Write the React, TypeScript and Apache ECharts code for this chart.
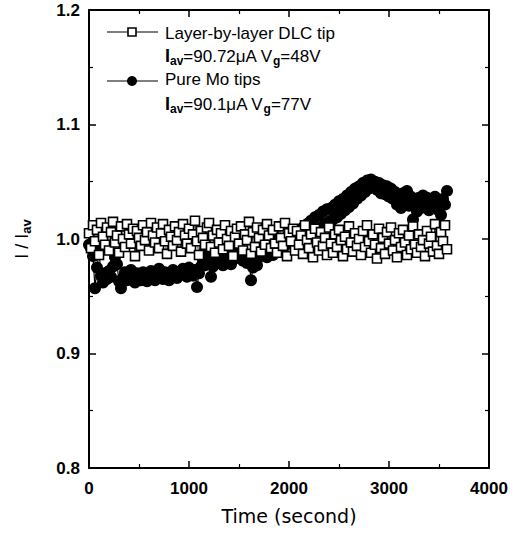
import React, { useEffect, useRef } from "react";
import * as echarts from "echarts";

// Time (s) of each sample
const timeSec = [
  0, 20, 40, 60, 80, 100, 120, 140, 160, 180, 200, 220, 240, 260, 280, 300, 320, 340, 360, 380,
  400, 420, 440, 460, 480, 500, 520, 540, 560, 580, 600, 620, 640, 660, 680, 700, 720, 740, 760, 780,
  800, 820, 840, 860, 880, 900, 920, 940, 960, 980, 1000, 1020, 1040, 1060, 1080, 1100, 1120, 1140, 1160, 1180,
  1200, 1220, 1240, 1260, 1280, 1300, 1320, 1340, 1360, 1380, 1400, 1420, 1440, 1460, 1480, 1500, 1520, 1540, 1560, 1580,
  1600, 1620, 1640, 1660, 1680, 1700, 1720, 1740, 1760, 1780, 1800, 1820, 1840, 1860, 1880, 1900, 1920, 1940, 1960, 1980,
  2000, 2020, 2040, 2060, 2080, 2100, 2120, 2140, 2160, 2180, 2200, 2220, 2240, 2260, 2280, 2300, 2320, 2340, 2360, 2380,
  2400, 2420, 2440, 2460, 2480, 2500, 2520, 2540, 2560, 2580, 2600, 2620, 2640, 2660, 2680, 2700, 2720, 2740, 2760, 2780,
  2800, 2820, 2840, 2860, 2880, 2900, 2920, 2940, 2960, 2980, 3000, 3020, 3040, 3060, 3080, 3100, 3120, 3140, 3160, 3180,
  3200, 3220, 3240, 3260, 3280, 3300, 3320, 3340, 3360, 3380, 3400, 3420, 3440, 3460, 3480, 3500, 3520, 3540, 3560, 3580,
];

// Layer-by-layer DLC tip, I / Iav (open squares)
const dlcTip = [
  1.005, 0.992, 1.012, 0.998, 1.008, 0.986, 1.014, 1.002, 0.995, 1.010, 0.990, 1.006, 1.015, 0.997, 1.003,
  0.988, 1.011, 1.000, 0.993, 1.013, 1.004, 0.996, 1.009, 0.985, 1.007, 1.001, 0.994, 1.012, 0.999, 1.006,
  0.990, 1.014, 1.003, 0.997, 1.010, 0.992, 1.005, 1.013, 0.998, 0.987, 1.008, 1.002, 0.994, 1.011, 0.999,
  1.006, 0.989, 1.013, 1.003, 0.996, 1.009, 0.992, 1.004, 1.016, 0.998, 0.986, 1.007, 1.001, 0.995, 1.010,
  1.014, 0.993, 1.003, 0.988, 1.008, 0.997, 1.005, 0.991, 1.012, 1.000, 0.994, 1.007, 0.985, 1.002, 1.009,
  0.996, 1.011, 0.990, 1.004, 0.999, 1.015, 0.987, 1.006, 0.993, 1.010, 1.001, 0.989, 1.008, 0.995, 1.013,
  1.003, 0.992, 1.008, 0.996, 0.988, 1.011, 1.001, 0.994, 1.014, 0.985, 1.005, 0.998, 1.009, 0.990, 1.007,
  0.995, 1.003, 0.987, 1.012, 0.999, 0.992, 1.004, 0.984, 1.009, 0.997, 0.990, 1.006, 0.994, 1.001, 0.986,
  1.010, 0.996, 0.988, 1.004, 0.993, 1.008, 0.999, 0.985, 1.002, 0.991, 1.011, 0.997, 0.989, 1.005, 0.994,
  1.000, 0.986, 1.007, 0.993, 1.012, 0.998, 0.988, 1.004, 0.995, 0.983, 1.009, 0.992, 1.001, 0.987, 1.006,
  0.996, 1.010, 0.990, 0.999, 0.984, 1.005, 0.993, 1.008, 0.997, 0.986, 1.003, 0.991, 1.011, 0.995, 0.988,
  1.004, 0.993, 0.999, 0.985, 1.007, 0.996, 1.002, 0.989, 1.013, 0.994, 0.987, 1.006, 0.998, 1.012, 0.991,
];

// Pure Mo tips, I / Iav (filled circles)
const pureMo = [
  0.995, 0.992, 0.985, 0.957, 0.975, 0.990,
  0.968, 0.962, 0.970, 0.965, 0.972, 0.967, 0.976, 0.984, 0.978, 0.963,
  0.957, 0.966, 0.971, 0.964, 0.969, 0.973, 0.966, 0.962, 0.970, 0.968, 0.964, 0.971, 0.967, 0.963, 0.969,
  0.972, 0.966, 0.964, 0.970, 0.974, 0.968, 0.965, 0.971, 0.967, 0.964, 0.969, 0.973, 0.968, 0.966, 0.971,
  0.969, 0.974, 0.970, 0.967, 0.975, 0.971, 0.968, 0.973, 0.958, 0.970, 0.976, 0.981, 0.977, 0.986, 0.980,
  0.967, 0.976, 0.983, 0.979, 0.986, 0.981, 0.977, 0.985, 0.989, 0.982, 0.978, 0.987, 0.983, 0.990, 0.984,
  0.988, 0.981, 0.986, 0.979, 0.983, 0.964, 0.975, 0.987, 0.977, 0.992, 0.985, 0.994, 0.989, 0.984, 0.996,
  0.991, 0.986, 0.997, 0.993, 1.000, 0.995, 0.999, 0.994, 1.002, 0.998, 1.004, 0.997, 1.003, 1.000, 1.006,
  1.000, 1.010, 1.003, 1.013, 1.002, 1.016, 1.006, 1.019, 1.008, 1.021, 1.010, 1.024, 1.013, 1.026, 1.015,
  1.027, 1.017, 1.030, 1.019, 1.033, 1.022, 1.035, 1.025, 1.038, 1.028, 1.041, 1.031, 1.044, 1.035, 1.046,
  1.038, 1.049, 1.041, 1.051, 1.044, 1.052, 1.046, 1.050, 1.043, 1.049, 1.040, 1.047, 1.039, 1.046, 1.037,
  1.044, 1.035, 1.041, 1.030, 1.037, 1.027, 1.040, 1.032, 1.042, 1.029, 1.037, 1.017, 1.030, 1.024, 1.036,
  1.027, 1.038, 1.029, 1.036, 1.025, 1.034, 1.028, 1.037, 1.026, 1.033, 1.021, 1.035, 1.030, 1.042,
];

const xRange = [0, 4000];
const yRange = [0.8, 1.2];
const xStep = 1000;
const yStep = 0.1;

const legendTitles = ["Layer-by-layer DLC tip", "Pure Mo tips"];
const legendNotes = [
  "{b|I}{s|av}{n|=90.72\u03bcA V}{s|g}{n|=48V}",
  "{b|I}{s|av}{n|=90.1\u03bcA V}{s|g}{n|=77V}",
];

const FONT = "'Liberation Sans', Arial, sans-serif";

const richSub = {
  n: { fontSize: 17, lineHeight: 21, fontFamily: FONT, color: "#000" },
  b: { fontSize: 18, lineHeight: 21, fontFamily: FONT, fontWeight: "bold", color: "#000" },
  s: { fontSize: 12, lineHeight: 8, verticalAlign: "bottom", fontFamily: FONT, fontWeight: "bold", color: "#000" },
};

const richAxis = {
  n: { fontSize: 18, lineHeight: 22, fontFamily: FONT, color: "#000" },
  s: { fontSize: 13, lineHeight: 8, verticalAlign: "bottom", fontFamily: FONT, fontWeight: "bold", color: "#000" },
};

export default function App() {
  const ref = useRef<HTMLDivElement>(null);

  useEffect(() => {
    if (!ref.current) return;
    const chart = echarts.init(ref.current, undefined, { renderer: "svg" });

    const axisCommon = {
      type: "value" as const,
      axisLine: { show: true, onZero: false, lineStyle: { color: "#000", width: 2 } },
      axisTick: { show: true, inside: true, length: 7, lineStyle: { color: "#000", width: 1.5 } },
      minorTick: { show: true, splitNumber: 2, length: 4, lineStyle: { color: "#000", width: 1.2 } },
      splitLine: { show: false },
    };

    const labelStyle = {
      color: "#000",
      fontFamily: FONT,
      fontSize: 17,
      fontWeight: "bold" as const,
    };

    chart.setOption({
      animation: false,
      backgroundColor: "#fff",
      grid: { left: 89, right: 27, top: 10, bottom: 68, containLabel: false },
      xAxis: [
        {
          ...axisCommon,
          position: "bottom",
          min: xRange[0],
          max: xRange[1],
          interval: xStep,
          axisLabel: { ...labelStyle, margin: 12, formatter: (v: number) => String(v) },
          name: "Time (second)",
          nameLocation: "middle",
          nameGap: 38,
          nameTextStyle: { color: "#000", fontFamily: "'DejaVu Sans', sans-serif", fontSize: 19 },
        },
        {
          ...axisCommon,
          position: "top",
          min: xRange[0],
          max: xRange[1],
          interval: xStep,
          axisLabel: { show: false },
        },
      ],
      yAxis: [
        {
          ...axisCommon,
          position: "left",
          min: yRange[0],
          max: yRange[1],
          interval: yStep,
          axisLabel: {
            ...labelStyle,
            margin: 9,
            padding: [8, 0, 0, 0],
            formatter: (v: number) => v.toFixed(1),
          },
          name: "{n|I / I}{s|av}",
          nameLocation: "middle",
          nameRotate: 90,
          nameGap: 56,
          nameTextStyle: { rich: richAxis },
        },
        {
          ...axisCommon,
          position: "right",
          min: yRange[0],
          max: yRange[1],
          interval: yStep,
          axisLabel: { show: false },
        },
      ],
      series: [
        {
          name: legendTitles[1],
          type: "line",
          xAxisIndex: 0,
          yAxisIndex: 0,
          data: timeSec.map((t, i) => [t, pureMo[i]]),
          symbol: "circle",
          symbolSize: 12,
          showAllSymbol: true,
          itemStyle: { color: "#000" },
          lineStyle: { color: "#000", width: 1.2 },
          z: 2,
        },
        {
          name: legendTitles[0],
          type: "line",
          xAxisIndex: 0,
          yAxisIndex: 0,
          data: timeSec.map((t, i) => [t, dlcTip[i]]),
          symbol: "rect",
          symbolSize: 9,
          showAllSymbol: true,
          itemStyle: { color: "#fff", borderColor: "#000", borderWidth: 1.6 },
          lineStyle: { color: "#000", width: 0.8 },
          z: 3,
        },
      ],
      graphic: [
        { type: "line", shape: { x1: 107, y1: 32, x2: 158, y2: 32 }, style: { stroke: "#000", lineWidth: 1.2 } },
        { type: "rect", shape: { x: 128, y: 28, width: 8, height: 8 }, style: { fill: "#fff", stroke: "#000", lineWidth: 1.6 } },
        {
          type: "text",
          x: 165,
          y: 33,
          style: { text: legendTitles[0], fill: "#000", font: `17px ${FONT}`, verticalAlign: "middle" },
        },
        {
          type: "text",
          x: 165,
          y: 56,
          style: { text: legendNotes[0], rich: richSub, verticalAlign: "middle" },
        },
        { type: "line", shape: { x1: 107, y1: 81, x2: 158, y2: 81 }, style: { stroke: "#000", lineWidth: 1.2 } },
        { type: "circle", shape: { cx: 132, cy: 81, r: 5 }, style: { fill: "#000" } },
        {
          type: "text",
          x: 165,
          y: 79,
          style: { text: legendTitles[1], fill: "#000", font: `17px ${FONT}`, verticalAlign: "middle" },
        },
        {
          type: "text",
          x: 165,
          y: 104,
          style: { text: legendNotes[1], rich: richSub, verticalAlign: "middle" },
        },
      ],
    });

    return () => chart.dispose();
  }, []);

  return (
    <div
      ref={ref}
      style={{ position: "fixed", left: 0, top: 0, width: 516, height: 536, background: "#fff" }}
    />
  );
}
